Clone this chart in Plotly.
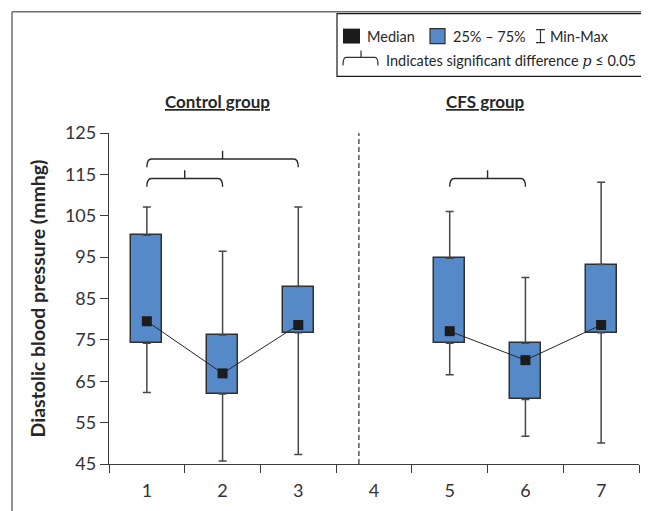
import plotly.graph_objects as go

# ---- data ----
categories = [1, 2, 3, 4, 5, 6, 7]
tick_labels = ["1", "2", "3", "4", "5", "6", "7"]
control_x = [1, 2, 3]
cfs_x = [5, 6, 7]
control_min = [62.3, 45.7, 47.3]
control_q1 = [74.2, 61.9, 76.7]
control_median = [79.5, 66.9, 78.6]
control_q3 = [100.3, 76.2, 87.9]
control_max = [107.1, 96.4, 107.1]
cfs_min = [66.6, 51.7, 50.1]
cfs_q1 = [74.2, 60.6, 76.7]
cfs_median = [77.1, 70.1, 78.6]
cfs_q3 = [94.7, 74.2, 93.2]
cfs_max = [106.0, 90.1, 113.1]
# significant comparisons: (from, to, bracket level)
comparisons = [(1, 2, 114.0), (1, 3, 118.7), (5, 6, 114.0)]
y_ticks = [45, 55, 65, 75, 85, 95, 105, 115, 125]

# ---- geometry / style ----
# the page body has an 8px margin, so the figure is placed 8px in from the window corner
OFF = 8
WIN_W, WIN_H = 649, 511
W, H = WIN_W - OFF, WIN_H - OFF
PLOT_L, PLOT_R, PLOT_T, PLOT_B = 109, 639, 133, 466   # window pixel coords of plot area
L, T = PLOT_L - OFF, PLOT_T - OFF
R, B = W - (PLOT_R - OFF), H - (PLOT_B - OFF)
PW, PH = PLOT_R - PLOT_L, PLOT_B - PLOT_T
FONT = "Lato"
BOX_FILL = "#5689C7"
BOX_LINE = "#303030"
WHISK = "#474747"
TEXT = "#262626"


def px(x):
    return (x - PLOT_L) / PW


def py(y):
    return (PLOT_B - y) / PH


fig = go.Figure()

all_x = control_x + cfs_x
all_q1 = control_q1 + cfs_q1
all_q3 = control_q3 + cfs_q3
all_min = control_min + cfs_min
all_max = control_max + cfs_max

# boxes (25%-75%)
fig.add_trace(go.Bar(
    x=all_x, y=[b - a for a, b in zip(all_q1, all_q3)], base=all_q1,
    width=0.41, marker=dict(color=BOX_FILL, line=dict(color=BOX_LINE, width=1.5)),
    showlegend=False, hoverinfo="skip"))

# upper whiskers
fig.add_trace(go.Scatter(
    x=all_x, y=all_q3, mode="markers", marker=dict(size=1, color="rgba(0,0,0,0)"),
    error_y=dict(type="data", symmetric=False,
                 array=[m - q for m, q in zip(all_max, all_q3)],
                 arrayminus=[0] * len(all_x), color=WHISK, thickness=1.5, width=4),
    showlegend=False, hoverinfo="skip"))
# lower whiskers
fig.add_trace(go.Scatter(
    x=all_x, y=all_q1, mode="markers", marker=dict(size=1, color="rgba(0,0,0,0)"),
    error_y=dict(type="data", symmetric=False,
                 array=[0] * len(all_x),
                 arrayminus=[q - m for m, q in zip(all_min, all_q1)],
                 color=WHISK, thickness=1.5, width=4),
    showlegend=False, hoverinfo="skip"))

# median lines + markers
for xs, med in [(control_x, control_median), (cfs_x, cfs_median)]:
    fig.add_trace(go.Scatter(
        x=xs, y=med, mode="lines+markers",
        line=dict(color="#262626", width=1),
        marker=dict(symbol="square", size=10, color="#1c1c1c"),
        showlegend=False, hoverinfo="skip"))

shapes = []
# dashed separator
shapes.append(dict(type="line", xref="x", yref="paper", x0=3.8, x1=3.8, y0=0, y1=1,
                   line=dict(color="#555555", width=1.5, dash="5px,3px")))

# significance brackets
for a, b, h in comparisons:
    m = (a + b) / 2
    d = 2.0
    e = 0.06
    path = (f"M {a},{h-d} Q {a},{h} {a+e},{h} L {b-e},{h} Q {b},{h} {b},{h-d} "
            f"M {m},{h} L {m},{h+d}")
    shapes.append(dict(type="path", xref="x", yref="y", path=path,
                       line=dict(color="#2a2a2a", width=1.4)))

# outer frame (top and left)
shapes.append(dict(type="line", xref="paper", yref="paper", x0=px(12), x1=px(WIN_W + 5),
                   y0=py(11), y1=py(11), line=dict(color="#6e6e6e", width=1.5)))
shapes.append(dict(type="line", xref="paper", yref="paper", x0=px(12), x1=px(12),
                   y0=py(11), y1=py(WIN_H + 5), line=dict(color="#6e6e6e", width=1.5)))

# legend box
shapes.append(dict(type="rect", xref="paper", yref="paper", x0=px(337), x1=px(646),
                   y0=py(13), y1=py(76), line=dict(color="#1a1a1a", width=1.2),
                   fillcolor="white"))
# legend symbols
shapes.append(dict(type="rect", xref="paper", yref="paper", x0=px(343), x1=px(360),
                   y0=py(28), y1=py(43), line=dict(width=0), fillcolor="#1c1c1c"))
shapes.append(dict(type="rect", xref="paper", yref="paper", x0=px(430), x1=px(445),
                   y0=py(28), y1=py(43), line=dict(color=BOX_LINE, width=1.2),
                   fillcolor=BOX_FILL))
shapes.append(dict(type="path", xref="paper", yref="paper",
                   path=(f"M {px(536)},{py(29)} L {px(545)},{py(29)} M {px(540.5)},{py(29)} "
                         f"L {px(540.5)},{py(42)} M {px(536)},{py(42)} L {px(545)},{py(42)}"),
                   line=dict(color="#333333", width=1.2)))
shapes.append(dict(type="path", xref="paper", yref="paper",
                   path=(f"M {px(343)},{py(65)} Q {px(343)},{py(57)} {px(346)},{py(57)} "
                         f"L {px(375)},{py(57)} Q {px(378)},{py(57)} {px(378)},{py(65)} "
                         f"M {px(361)},{py(57)} L {px(361)},{py(50)}"),
                   line=dict(color="#333333", width=1.2)))

LEG = dict(family=FONT, size=14.5, color=TEXT)
annotations = [
    dict(text="Median", xref="paper", yref="paper", x=px(365), y=py(35.5),
         xanchor="left", yanchor="middle", showarrow=False, font=LEG),
    dict(text="25% – 75%", xref="paper", yref="paper", x=px(451), y=py(35.5),
         xanchor="left", yanchor="middle", showarrow=False, font=LEG),
    dict(text="Min-Max", xref="paper", yref="paper", x=px(548), y=py(35.5),
         xanchor="left", yanchor="middle", showarrow=False, font=LEG),
    dict(text="Indicates significant difference <i><span style='font-family:DejaVu Serif'>p</span></i> ≤ 0.05",
         xref="paper", yref="paper", x=px(384), y=py(60),
         xanchor="left", yanchor="middle", showarrow=False, font=LEG),
    dict(text="<b><u>Control group</u></b>", xref="paper", yref="paper", x=px(217), y=py(101),
         xanchor="center", yanchor="middle", showarrow=False,
         font=dict(family=FONT, size=17, color=TEXT)),
    dict(text="<b><u>CFS group</u></b>", xref="paper", yref="paper", x=px(485), y=py(101),
         xanchor="center", yanchor="middle", showarrow=False,
         font=dict(family=FONT, size=17, color=TEXT)),
]

fig.update_layout(
    width=W, height=H,
    margin=dict(l=L, r=R, t=T, b=B, pad=0),
    paper_bgcolor="white", plot_bgcolor="white",
    shapes=shapes, annotations=annotations,
    showlegend=False,
    bargap=0,
    xaxis=dict(
        range=[0.5, 7.5], tickvals=categories, ticktext=tick_labels,
        ticks="outside", ticklen=10, tickcolor="rgba(0,0,0,0)",
        showline=True, linecolor="#3a3a3a", linewidth=1.3,
        showgrid=False, zeroline=False,
        tickfont=dict(family=FONT, size=18, color="#333333"),
        minor=dict(tick0=0.5, dtick=1, ticks="outside", ticklen=8,
                   tickcolor="#3a3a3a", tickwidth=1.3, showgrid=False),
    ),
    yaxis=dict(
        range=[45, 125], tickvals=y_ticks,
        ticks="outside", ticklen=8, tickcolor="#3a3a3a", tickwidth=1.3,
        showline=True, linecolor="#3a3a3a", linewidth=1.3,
        showgrid=False, zeroline=False,
        tickfont=dict(family=FONT, size=18, color="#333333"),
        title=dict(text="<b>Diastolic blood pressure (mmhg)</b>",
                   font=dict(family=FONT, size=19.5, color=TEXT), standoff=14),
    ),
)

fig.write_html("out.html")
